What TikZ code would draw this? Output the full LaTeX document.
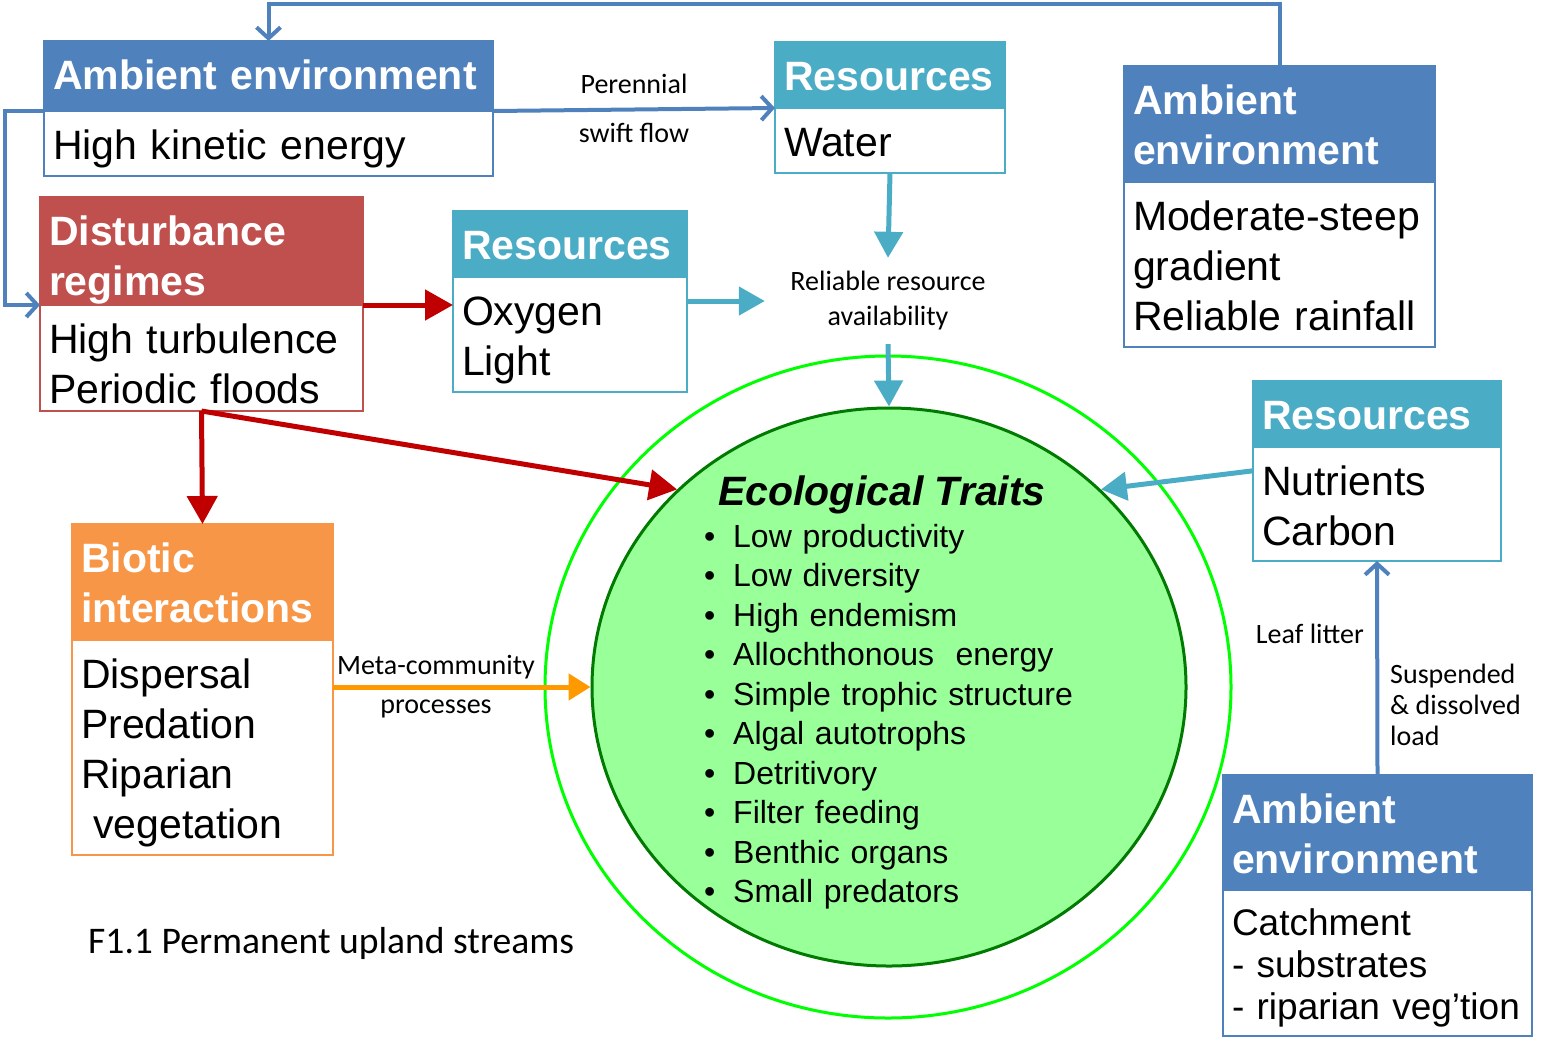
\documentclass[tikz,border=0pt]{standalone}
\usepackage{fontspec}
\setmainfont{Liberation Sans}
\newfontfamily\lblfont{Carlito}
\usetikzlibrary{positioning,arrows.meta,shapes.geometric}
\definecolor{ambblue}{HTML}{4F81BD}
\definecolor{resteal}{HTML}{4BACC6}
\definecolor{distred}{HTML}{C0504D}
\definecolor{bioorange}{HTML}{F79646}
\definecolor{linkred}{HTML}{C00000}
\definecolor{linkorange}{HTML}{FF9900}
\definecolor{ringgreen}{HTML}{00FF00}
\definecolor{corefill}{HTML}{99FF99}
\definecolor{coreline}{HTML}{007A00}
\newcommand{\tbul}{\makebox[29pt][l]{\textbullet}}
\tikzset{
  hdr/.style={rectangle,fill=#1,draw=#1,text=white,line width=1.5pt,outer sep=0pt,
    inner xsep=9pt,inner ysep=0pt,align=left,anchor=north west,text height=48pt,
    font=\fontsize{41}{50}\selectfont\bfseries},
  bdy/.style={rectangle,fill=white,draw=#1,text=black,line width=1.5pt,outer sep=0pt,
    inner xsep=9pt,inner ysep=0pt,align=left,text height=48pt,font=\fontsize{41}{50}\selectfont},
  lbl/.style={inner sep=0pt,font=\lblfont\fontsize{28}{35}\selectfont},
  blink/.style={draw=ambblue,line width=4pt,-{Straight Barb[length=11pt,width=24pt]}},
  redflow/.style={draw=linkred,line width=5pt,-{Triangle[length=28pt,width=30pt]}},
  tealflow/.style={draw=resteal,line width=5pt,-{Triangle[length=26pt,width=28pt]}},
  orangeflow/.style={draw=linkorange,line width=5pt,-{Triangle[length=22pt,width=26pt]}},
}
\begin{document}
\begin{tikzpicture}[x=1pt,y=-1pt]
  \useasboundingbox (0,0) rectangle (1554,1053);
  % boxes: header + body
  \node[hdr=ambblue,minimum width=449,text width=431,text depth=22pt] (ambAH) at (44,41) {Ambient environment};
  \node[bdy=ambblue,below=0pt of ambAH,minimum width=449,text width=431,text depth=17pt] (ambAB) {High kinetic energy};
  \node[hdr=resteal,minimum width=230,text width=212,text depth=18pt] (waterH) at (775,42) {Resources};
  \node[bdy=resteal,below=0pt of waterH,minimum width=230,text width=212,text depth=17pt] (waterB) {Water};
  \node[hdr=ambblue,minimum width=311,text width=293,text depth=68pt] (ambRH) at (1124,66) {Ambient\\environment};
  \node[bdy=ambblue,below=0pt of ambRH,minimum width=311,text width=293,text depth=117pt] (ambRB) {Moderate-steep\\gradient\\Reliable rainfall};
  \node[hdr=distred,minimum width=323,text width=305,text depth=60pt] (distH) at (40,197) {Disturbance\\regimes};
  \node[bdy=distred,below=0pt of distH,minimum width=323,text width=305,text depth=58pt] (distB) {High turbulence\\Periodic floods};
  \node[hdr=resteal,minimum width=234,text width=216,text depth=18pt] (oxyH) at (453,211) {Resources};
  \node[bdy=resteal,below=0pt of oxyH,minimum width=234,text width=216,text depth=67pt] (oxyB) {Oxygen\\Light};
  \node[hdr=resteal,minimum width=248,text width=230,text depth=18pt] (nutH) at (1253,381) {Resources};
  \node[bdy=resteal,below=0pt of nutH,minimum width=248,text width=230,text depth=66pt] (nutB) {Nutrients\\Carbon};
  \node[hdr=bioorange,minimum width=261,text width=243,text depth=68pt] (bioH) at (72,524) {Biotic\\interactions};
  \node[bdy=bioorange,below=0pt of bioH,minimum width=261,text width=243,text depth=167pt] (bioB) {Dispersal\\Predation\\Riparian\\\hspace{0.3em}vegetation};
  \node[hdr=ambblue,minimum width=309,text width=291,text depth=67pt] (ambBH) at (1223,775) {Ambient\\environment};
  \node[bdy=ambblue,below=0pt of ambBH,minimum width=309,text width=291,text height=45pt,text depth=101pt,
    font=\fontsize{37}{42}\selectfont] (ambBB) {Catchment\\- substrates\\- riparian veg’tion};
  % traits
  \node[ellipse,draw=ringgreen,line width=3pt,minimum width=686,minimum height=662] (ring) at (888,687) {};
  \node[ellipse,draw=coreline,fill=corefill,line width=3pt,minimum width=594,minimum height=558] (eco) at (889,687) {};
  \node[anchor=base,inner sep=0pt,font=\fontsize{41}{50}\selectfont\bfseries\itshape] (ttl) at (882,505) {Ecological Traits};
  \node[anchor=base west,inner sep=0pt,align=left,text width=420,font=\fontsize{32}{39.5}\selectfont] (lst) at (704,547)
    {\tbul Low productivity\\\tbul Low diversity\\\tbul High endemism\\\tbul Allochthonous\ \ energy\\
     \tbul Simple trophic structure\\\tbul Algal autotrophs\\\tbul Detritivory\\\tbul Filter feeding\\
     \tbul Benthic organs\\\tbul Small predators};
  \node[lbl,align=center,minimum width=246,minimum height=86] (avail) at (888,301) {Reliable resource\\availability};
  \node[lbl,anchor=base east] (leaf) at (1364,643) {Leaf litter};
  \node[lbl,anchor=base west,align=left,font=\lblfont\fontsize{28}{31}\selectfont] (load) at (1390,745) {Suspended\\\& dissolved\\load};
  \node[lbl,anchor=base west,font=\lblfont\fontsize{37.6}{44}\selectfont] (cap) at (88,953) {F1.1 Permanent upland streams};
  % connectors
  \draw[blink] (ambRH.north) -- ++(0,-62) -| (ambAH.north);
  \draw[blink] (ambAH.south west) -- ++(-39,0) |- (distH.south west);
  \draw[blink] (ambAH.south east) -- (waterH.south west)
    node[lbl,pos=0.5,above=14pt] {Perennial} node[lbl,pos=0.5,below=12pt] {swift flow};
  \draw[blink] (ambBH.north) -- (nutB.south);
  \draw[tealflow] (waterB.south) -- (avail.north);
  \draw[tealflow] (oxyB.east |- avail.west) -- (avail.west);
  \draw[tealflow] (avail.south) -- (eco.north);
  \draw[tealflow] (nutB.165) -- (eco.43);
  \draw[redflow] (distH.south east) -- (oxyB.west |- distH.south east);
  \draw[redflow] (distB.south) -- (eco.137);
  \draw[redflow] (distB.south) -- (bioH.north);
  \draw[orangeflow] (bioB.east |- eco.west) -- (eco.west)
    node[lbl,pos=0.4,above=6pt] {Meta-community} node[lbl,pos=0.4,below=10pt] {processes};
\end{tikzpicture}
\end{document}
